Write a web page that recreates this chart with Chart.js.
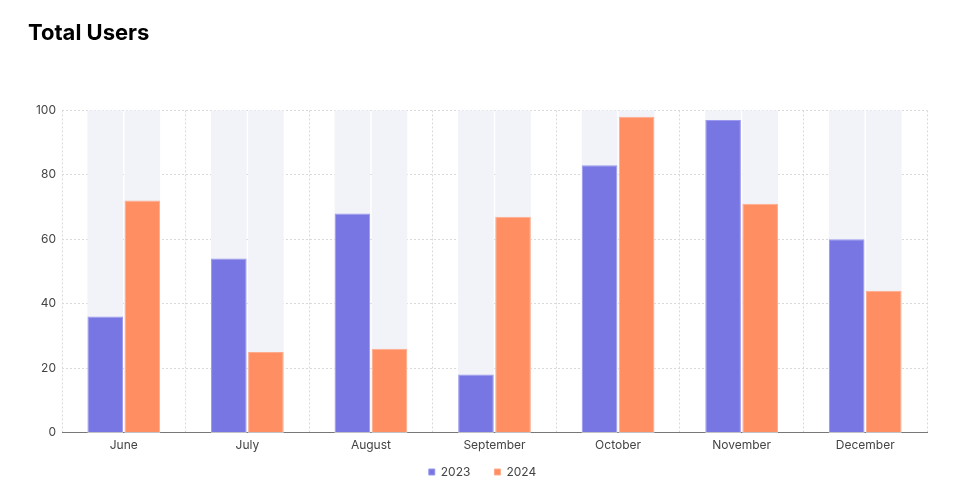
<!DOCTYPE html>
<html>
<head>
<meta charset="utf-8">
<script src="https://cdn.jsdelivr.net/npm/chart.js@4/dist/chart.umd.min.js"></script>
<style>
  html, body { margin: 0; padding: 0; background: #fff; }
  #wrap { width: 960px; height: 500px; }
</style>
</head>
<body>
<div id="wrap"><canvas id="c" width="960" height="500"></canvas></div>
<script>
const categories = ['June', 'July', 'August', 'September', 'October', 'November', 'December'];
const values2023 = [36, 54, 68, 18, 83, 97, 60];
const values2024 = [72, 25, 26, 67, 98, 71, 44];
const trackValues = [100, 100, 100, 100, 100, 100, 100];
const yTicks = [0, 20, 40, 60, 80, 100];

const FONT = 'Inter, "Noto Sans", sans-serif';

const trackPlugin = {
  id: 'tracks',
  beforeDatasetsDraw(chart) {
    const ctx = chart.ctx;
    const y = chart.scales.y;
    ctx.save();
    ctx.fillStyle = '#f2f3f9';
    [0, 1].forEach(di => {
      const meta = chart.getDatasetMeta(di);
      meta.data.forEach((el, i) => {
        const p = el.getProps(['x', 'width'], true);
        const top = y.getPixelForValue(trackValues[i]);
        const bottom = y.getPixelForValue(0);
        ctx.fillRect(p.x - p.width / 2, top, p.width, bottom - top);
      });
    });
    ctx.restore();
  }
};

// keep wide horizontal spacing between legend items but a compact legend box
const LEGEND_SHIFT = 17;
const LEGEND_X = 5;
const legendPatch = {
  id: 'legendPatch',
  beforeLayout(chart) {
    const lg = chart.legend;
    if (lg && !lg._patched) {
      lg._patched = true;
      const f = lg.fit;
      lg.fit = function () { f.call(this); this.height -= LEGEND_SHIFT; };
      const d = lg.draw;
      lg.draw = function () {
        const t = this.top, l = this.left, r = this.right;
        this.top = t - LEGEND_SHIFT;
        this.left = l + LEGEND_X;
        this.right = r + LEGEND_X;
        d.apply(this, arguments);
        this.top = t; this.left = l; this.right = r;
      };
    }
  }
};

new Chart(document.getElementById('c'), {
  type: 'bar',
  data: {
    labels: categories,
    datasets: [
      { label: '2023', data: values2023, backgroundColor: '#7776e3', borderColor: '#9a99ee', borderWidth: 1, categoryPercentage: 0.6, barPercentage: 0.96 },
      { label: '2024', data: values2024, backgroundColor: '#ff8e62', borderColor: '#ffab8c', borderWidth: 1, categoryPercentage: 0.6, barPercentage: 0.96 }
    ]
  },
  options: {
    responsive: false,
    animation: false,
    devicePixelRatio: 1,
    layout: { padding: { left: 28, right: 33, top: 0, bottom: 12 } },
    plugins: {
      title: {
        display: true,
        text: 'Total Users',
        align: 'start',
        color: '#000',
        font: { family: FONT, size: 22, weight: 'bold' },
        padding: { top: 20, bottom: 64 }
      },
      legend: {
        position: 'bottom',
        labels: {
          boxWidth: 6,
          boxHeight: 6,
          color: '#444',
          font: { family: FONT, size: 12 },
          padding: 24
        }
      },
      tooltip: { enabled: false }
    },
    scales: {
      x: {
        offset: true,
        grid: { display: true, offset: true, color: '#d9d9d9', drawTicks: false, lineWidth: 1 },
        border: { display: true, color: '#777', width: 1, dash: [2, 2] },
        ticks: { color: '#444', font: { family: FONT, size: 12 }, padding: 6 }
      },
      y: {
        min: 0,
        max: 100,
        afterBuildTicks: s => { s.ticks = yTicks.map(v => ({ value: v })); },
        afterFit: s => { s.width = 34; },
        grid: { color: '#d9d9d9', drawTicks: false, lineWidth: 1 },
        border: { display: false, dash: [2, 2] },
        ticks: { color: '#444', font: { family: FONT, size: 12 }, padding: 6 }
      }
    }
  },
  plugins: [trackPlugin, legendPatch]
});
</script>
</body>
</html>
